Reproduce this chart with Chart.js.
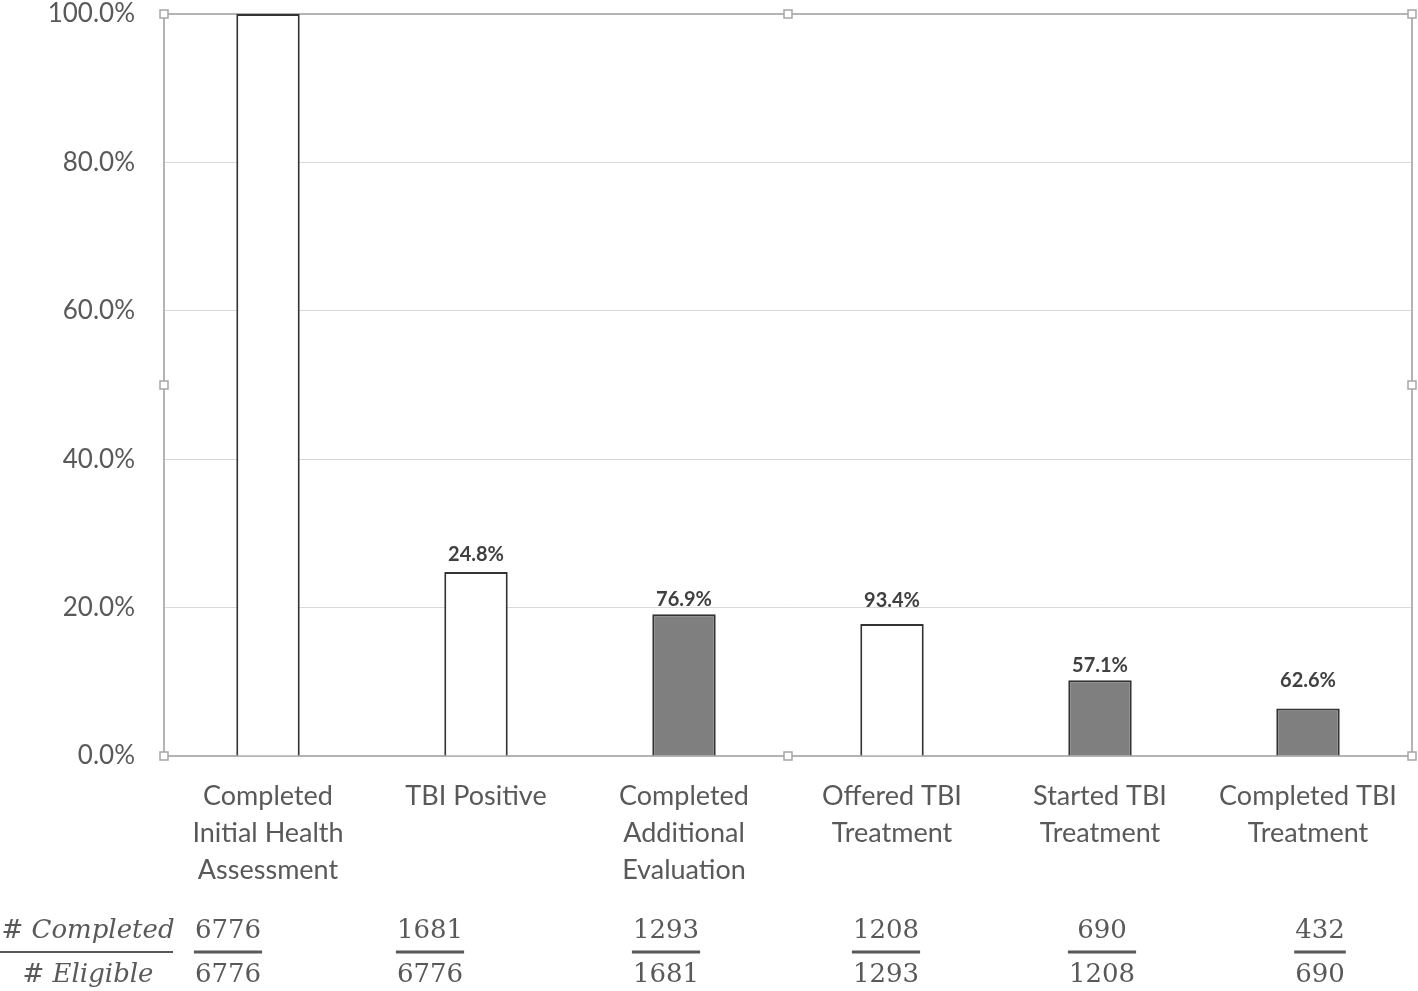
<!DOCTYPE html>
<html>
<head>
<meta charset="utf-8">
<script src="https://cdn.jsdelivr.net/npm/chart.js@4.4.1/dist/chart.umd.min.js"></script>
<style>
  html, body { margin: 0; padding: 0; background: #ffffff; }
  #wrap { width: 1418px; height: 991px; position: relative; }
</style>
</head>
<body>
<div id="wrap"><canvas id="c"></canvas></div>
<script>
// ---- data ----
const categories = [
  ['Completed', 'Initial Health', 'Assessment'],
  ['TBI Positive'],
  ['Completed', 'Additional', 'Evaluation'],
  ['Offered TBI', 'Treatment'],
  ['Started TBI', 'Treatment'],
  ['Completed TBI', 'Treatment']
];
const percentOfAssessed = [100.0, 24.8, 19.1, 17.8, 10.2, 6.4];
const stepRates = [null, 24.8, 76.9, 93.4, 57.1, 62.6];
const completedCounts = [6776, 1681, 1293, 1208, 690, 432];
const eligibleCounts = [6776, 6776, 1681, 1293, 1208, 690];
const yTicks = [0, 20, 40, 60, 80, 100];
const fractionHeader = ['# Completed', '# Eligible'];

// ---- styles ----
const WHITE = '#ffffff', GRAY = '#7f7f7f';
const barFills = [WHITE, WHITE, GRAY, WHITE, GRAY, GRAY];
const labelShift = [0, -2, 0, -8, 0, -13];
const fracShift = [-40, -46, -18, -6, 2, 12];

const frameAndHandles = {
  id: 'frameAndHandles',
  beforeDatasetsDraw(chart) {
    const { ctx, chartArea: a } = chart;
    ctx.save();
    ctx.strokeStyle = '#b4b4b4';
    ctx.lineWidth = 2;
    ctx.strokeRect(a.left, a.top, a.right - a.left, a.bottom - a.top);
    ctx.restore();
  },
  afterDraw(chart) {
    const { ctx, chartArea: a } = chart;
    const mx = (a.left + a.right) / 2, my = (a.top + a.bottom) / 2;
    const pts = [[a.left, a.top], [mx, a.top], [a.right, a.top], [a.left, my], [a.right, my],
                 [a.left, a.bottom], [mx, a.bottom], [a.right, a.bottom]];
    ctx.save();
    ctx.fillStyle = '#ffffff';
    ctx.strokeStyle = '#a6a6a6';
    ctx.lineWidth = 1.5;
    pts.forEach(([x, y]) => {
      ctx.fillRect(x - 4, y - 4, 8, 8);
      ctx.strokeRect(x - 4, y - 4, 8, 8);
    });
    ctx.restore();
  }
};

const barLabels = {
  id: 'barLabels',
  afterDatasetsDraw(chart) {
    const { ctx } = chart;
    const meta = chart.getDatasetMeta(0);
    ctx.save();
    ctx.font = 'bold 20px Lato, "Open Sans", sans-serif';
    ctx.fillStyle = '#404040';
    ctx.textAlign = 'center';
    ctx.textBaseline = 'bottom';
    meta.data.forEach((bar, i) => {
      if (stepRates[i] == null) return;
      ctx.fillText(stepRates[i].toFixed(1) + '%', bar.x, bar.y - 5 + labelShift[i]);
    });
    ctx.restore();
  }
};

const fractionTable = {
  id: 'fractionTable',
  afterDraw(chart) {
    const { ctx } = chart;
    const meta = chart.getDatasetMeta(0);
    const yLine = 952, yNum = 931, yDen = 975;
    ctx.save();
    ctx.fillStyle = '#595959';
    ctx.strokeStyle = '#595959';
    ctx.textBaseline = 'middle';
    ctx.textAlign = 'center';
    ctx.font = 'italic 26px "DejaVu Serif", serif';
    ctx.fillText(fractionHeader[0], 88, yNum);
    ctx.fillText(fractionHeader[1], 88, yDen);
    ctx.lineWidth = 2;
    ctx.beginPath(); ctx.moveTo(0, yLine); ctx.lineTo(173, yLine); ctx.stroke();
    ctx.font = '26px "DejaVu Serif", serif';
    meta.data.forEach((bar, i) => {
      const cx = bar.x + fracShift[i];
      const n = String(completedCounts[i]), d = String(eligibleCounts[i]);
      ctx.fillText(n, cx, yNum);
      ctx.fillText(d, cx, yDen);
      const w = Math.max(ctx.measureText(n).width, ctx.measureText(d).width) + 2;
      ctx.lineWidth = 3;
      ctx.beginPath(); ctx.moveTo(cx - w / 2, yLine); ctx.lineTo(cx + w / 2, yLine); ctx.stroke();
    });
    ctx.restore();
  }
};

new Chart(document.getElementById('c'), {
  type: 'bar',
  data: {
    labels: categories,
    datasets: [{
      data: percentOfAssessed,
      backgroundColor: barFills,
      borderColor: '#333333',
      borderWidth: 2,
      barPercentage: 0.305,
      categoryPercentage: 1.0
    }]
  },
  options: {
    responsive: true,
    maintainAspectRatio: false,
    animation: false,
    layout: { padding: { top: 14, right: 6, left: 0, bottom: 0 } },
    plugins: { legend: { display: false }, tooltip: { enabled: false } },
    scales: {
      x: {
        grid: { display: false, drawTicks: false },
        border: { display: true, color: '#b4b4b4', width: 2 },
        ticks: {
          color: '#595959',
          font: { family: 'Lato, "Open Sans", sans-serif', size: 27, lineHeight: 1.37 },
          padding: 22,
          maxRotation: 0,
          autoSkip: false
        },
        afterFit(scale) {
          scale.height = 235;
          scale.paddingLeft = 0; scale.paddingRight = 0; scale.paddingTop = 0; scale.paddingBottom = 0;
        }
      },
      y: {
        min: 0, max: 100,
        afterBuildTicks(scale) { scale.ticks = yTicks.map(v => ({ value: v })); },
        grid: { color: '#d9d9d9', lineWidth: 1, drawTicks: false },
        border: { display: true, color: '#b4b4b4', width: 2 },
        ticks: {
          color: '#595959',
          font: { family: 'Lato, "Open Sans", sans-serif', size: 26 },
          padding: 29,
          callback: v => v.toFixed(1) + '%'
        },
        afterFit(scale) {
          scale.width = 164;
          scale.paddingTop = 0; scale.paddingBottom = 0; scale.paddingLeft = 0; scale.paddingRight = 0;
        }
      }
    }
  },
  plugins: [frameAndHandles, barLabels, fractionTable]
});
</script>
</body>
</html>
